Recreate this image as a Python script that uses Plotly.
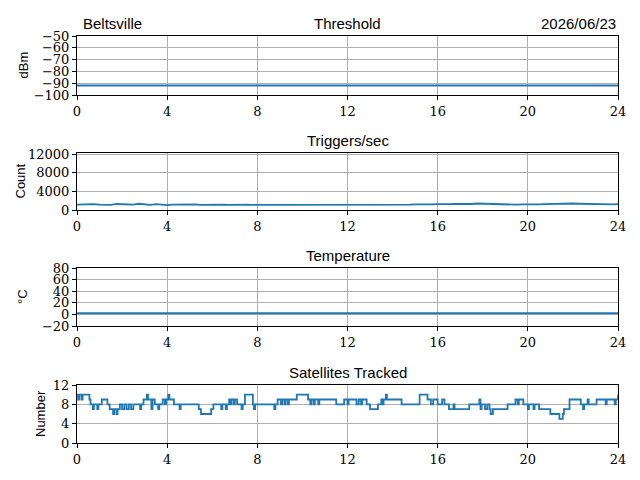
import numpy as np
import plotly.graph_objects as go

# hours of day
hours_thr = [0, 4, 8, 12, 16, 20, 24]
threshold = [-92, -92, -92, -92, -92, -92, -92]

triggers = [1150, 1200, 1100, 1250, 1150, 1050, 1100, 1300, 1200, 1250, 1150, 1350,
            1200, 1100, 1250, 1150, 1050, 1150, 1200, 1100, 1150, 1200, 1100, 1150,
            1100, 1200, 1150, 1100, 1150, 1050, 1150, 1100, 1100, 1150, 1050, 1100,
            1150, 1100, 1100, 1050, 1150, 1100, 1050, 1100, 1150, 1050, 1100, 1100,
            1050, 1100, 1050, 1150, 1100, 1050, 1100, 1050, 1000, 1050, 1100, 1150,
            1200, 1150, 1250, 1200, 1250, 1200, 1250, 1300, 1250, 1350, 1300, 1400,
            1350, 1300, 1250, 1300, 1200, 1250, 1150, 1200, 1150, 1100, 1200, 1250,
            1300, 1250, 1350, 1300, 1400, 1350, 1300, 1350, 1250, 1300, 1250, 1200,
            1250]

hours_temp = [0, 4, 8, 12, 16, 20, 24]
temperature = [2, 2, 2, 2, 2, 2, 2]

sat_hours = [0.0, 0.05, 0.1, 0.2, 0.25, 0.55, 0.6, 0.7, 0.75, 0.9, 0.95, 1.1, 1.35, 1.45,
             1.6, 1.65, 1.75, 1.8, 1.9, 2.0, 2.1, 2.2, 2.3, 2.4, 2.5, 2.8, 2.85, 2.95,
             3.1, 3.15, 3.3, 3.35, 3.45, 3.6, 3.65, 3.8, 3.9, 3.95, 4.05, 4.1, 4.3,
             4.55, 4.6, 5.4, 5.5, 5.95, 6.05, 6.4, 6.45, 6.6, 6.65, 6.75, 6.8, 6.85,
             6.95, 7.0, 7.1, 7.3, 7.35, 7.45, 7.8, 7.85, 7.9, 8.75, 8.8, 8.9, 9.05,
             9.1, 9.2, 9.25, 9.35, 9.4, 9.75, 10.25, 10.35, 10.4, 10.5, 10.55, 10.7,
             10.75, 11.5, 11.85, 12.0, 12.05, 12.4, 12.5, 12.6, 12.65, 12.85, 13.0,
             13.35, 13.5, 13.55, 13.6, 13.7, 13.75, 14.4, 15.2, 15.55, 15.7, 15.8,
             16.0, 16.2, 16.3, 16.5, 16.7, 16.75, 17.4, 17.85, 17.9, 17.95, 18.1,
             18.2, 18.3, 18.35, 18.45, 19.1, 19.45, 19.55, 19.6, 19.8, 20.0, 20.05,
             20.25, 20.3, 20.5, 21.0, 21.4, 21.55, 21.6, 21.85, 22.35, 22.45, 22.5,
             22.65, 22.7, 23.05, 23.45, 23.5, 23.85, 23.9, 24.0]
satellites = [10, 9, 10, 9, 10, 9, 8, 7, 8, 7, 8, 9, 8, 7,
              6, 7, 6, 7, 8, 7, 8, 7, 8, 7, 8, 7, 8, 9,
              10, 9, 7, 9, 8, 7, 8, 9, 8, 9, 10, 9, 8,
              7, 8, 7, 6, 7, 8, 7, 8, 7, 8, 9, 8, 9,
              8, 9, 8, 7, 8, 10, 8, 7, 8, 7, 8, 9, 8,
              9, 8, 9, 8, 9, 10, 9, 8, 9, 8, 9, 8,
              9, 8, 9, 8, 9, 8, 9, 8, 9, 8, 7,
              8, 9, 8, 9, 10, 9, 8, 10, 9, 8, 9,
              8, 9, 8, 7, 8, 7, 8, 9, 7, 8, 7,
              8, 7, 6, 7, 8, 9, 8, 9, 8, 7, 8,
              7, 8, 7, 6, 5, 6, 7, 9, 8, 7, 8,
              9, 8, 9, 8, 9, 8, 9, 10]

x_ticks = [0, 4, 8, 12, 16, 20, 24]

blue = "#1f77b4"
tick_font = dict(family="DejaVu Serif", size=13, color="black")
title_font = dict(family="Liberation Sans", size=15, color="black")

# page has an 8px body margin, so place things relative to that
OFF = 8
W, H = 640, 480


def px_x(x):
    return (x - OFF) / W


def px_y(y):
    return 1 - (y - OFF) / H


# panel pixel extents in the picture, top to bottom
panel_px = [(36, 95), (153, 210), (268, 326), (385, 443)]
domains = [(px_y(b), px_y(t)) for t, b in panel_px]
xdom = [px_x(77), px_x(618)]

fig = go.Figure()

fig.add_trace(go.Scatter(x=hours_thr, y=threshold, mode="lines",
                         line=dict(color=blue, width=2), xaxis="x", yaxis="y"))
fig.add_trace(go.Scatter(x=np.linspace(0, 24, len(triggers)), y=triggers, mode="lines",
                         line=dict(color=blue, width=1.8), xaxis="x2", yaxis="y2"))
fig.add_trace(go.Scatter(x=hours_temp, y=temperature, mode="lines",
                         line=dict(color=blue, width=2), xaxis="x3", yaxis="y3"))
fig.add_trace(go.Scatter(x=sat_hours, y=satellites, mode="lines", line_shape="hv",
                         line=dict(color=blue, width=1.8), xaxis="x4", yaxis="y4"))

y_cfg = [
    dict(range=[-100, -50], tickvals=[-100, -90, -80, -70, -60, -50],
         ticktext=["\u2212100", "\u221290", "\u221280", "\u221270", "\u221260", "\u221250"]),
    dict(range=[0, 12300], tickvals=[0, 4000, 8000, 12000],
         ticktext=["0", "4000", "8000", "12000"]),
    dict(range=[-20, 80], tickvals=[-20, 0, 20, 40, 60, 80],
         ticktext=["\u221220", "0", "20", "40", "60", "80"]),
    dict(range=[0, 12], tickvals=[0, 4, 8, 12], ticktext=["0", "4", "8", "12"]),
]

layout = dict(width=W, height=H, margin=dict(l=0, r=0, t=0, b=0, pad=0, autoexpand=False),
              paper_bgcolor="white", plot_bgcolor="white", showlegend=False)

for i in range(4):
    sfx = "" if i == 0 else str(i + 1)
    layout["xaxis" + sfx] = dict(
        domain=xdom, anchor="y" + sfx, range=[0, 24], tickvals=x_ticks,
        ticks="outside", ticklen=4, tickcolor="black", tickfont=tick_font,
        showline=True, linecolor="black", linewidth=1, mirror=True, automargin=False,
        showgrid=True, gridcolor="#b0b0b0", gridwidth=1, zeroline=False)
    layout["yaxis" + sfx] = dict(
        domain=list(domains[i]), anchor="x" + sfx, **y_cfg[i],
        ticks="outside", ticklen=4, tickcolor="black", tickfont=tick_font,
        showline=True, linecolor="black", linewidth=1, mirror=True, automargin=False,
        showgrid=True, gridcolor="#b0b0b0", gridwidth=1, zeroline=False)

fig.update_layout(**layout)

# titles
titles = ["Threshold", "Triggers/sec", "Temperature", "Satellites Tracked"]
for i, t in enumerate(titles):
    fig.add_annotation(text=t, x=(xdom[0] + xdom[1]) / 2, y=domains[i][1],
                       xref="paper", yref="paper", xanchor="center", yanchor="bottom",
                       yshift=2, showarrow=False, font=title_font)
fig.add_annotation(text="Beltsville", x=xdom[0], y=domains[0][1], xref="paper",
                   yref="paper", xanchor="left", yanchor="bottom", xshift=4, yshift=2,
                   showarrow=False, font=title_font)
fig.add_annotation(text="2026/06/23", x=xdom[1], y=domains[0][1], xref="paper",
                   yref="paper", xanchor="right", yanchor="bottom", yshift=2,
                   showarrow=False, font=title_font)

# y-axis labels
ylabels = ["dBm", "Count", "\u00b0C", "Number"]
ylab_px = [23, 20, 22, 40]
for i, t in enumerate(ylabels):
    fig.add_annotation(text=t, x=px_x(ylab_px[i]), y=(domains[i][0] + domains[i][1]) / 2,
                       xref="paper", yref="paper", xanchor="center", yanchor="middle",
                       textangle=-90, showarrow=False,
                       font=dict(family="Liberation Sans", size=13, color="black"))

fig.write_html("out.html")
